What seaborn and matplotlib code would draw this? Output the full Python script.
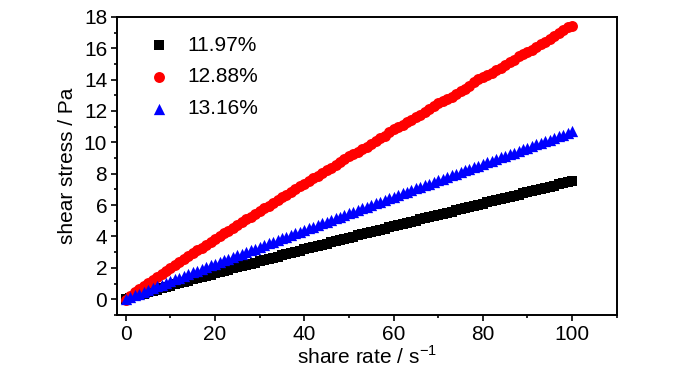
import matplotlib
matplotlib.use("Agg")
import matplotlib.pyplot as plt
import seaborn as sns
import pandas as pd
from matplotlib.ticker import MultipleLocator

# shear rate (1/s)
shear_rate = list(range(0, 101))

# shear stress (Pa)
stress_1197 = [
    0.00, 0.10, 0.18, 0.27, 0.35, 0.44, 0.52, 0.61, 0.69, 0.78,
    0.86, 0.94, 1.02, 1.10, 1.18, 1.26, 1.34, 1.42, 1.50, 1.57,
    1.65, 1.73, 1.81, 1.88, 1.96, 2.04, 2.11, 2.19, 2.27, 2.34,
    2.42, 2.50, 2.57, 2.65, 2.72, 2.80, 2.88, 2.95, 3.03, 3.10,
    3.18, 3.25, 3.33, 3.40, 3.47, 3.55, 3.62, 3.70, 3.77, 3.85,
    3.92, 3.99, 4.07, 4.14, 4.21, 4.29, 4.36, 4.43, 4.50, 4.58,
    4.65, 4.72, 4.80, 4.87, 4.94, 5.01, 5.09, 5.16, 5.23, 5.31,
    5.38, 5.45, 5.52, 5.59, 5.67, 5.74, 5.81, 5.88, 5.95, 6.03,
    6.10, 6.17, 6.24, 6.31, 6.39, 6.46, 6.53, 6.60, 6.67, 6.74,
    6.82, 6.89, 6.96, 7.03, 7.10, 7.17, 7.24, 7.32, 7.39, 7.46,
    7.53,
]
stress_1288 = [
    -0.05, 0.23, 0.44, 0.64, 0.84, 1.04, 1.24, 1.43, 1.63, 1.82,
    2.00, 2.19, 2.37, 2.56, 2.74, 2.92, 3.11, 3.29, 3.47, 3.66,
    3.84, 4.02, 4.20, 4.38, 4.56, 4.73, 4.91, 5.09, 5.27, 5.44,
    5.62, 5.79, 5.97, 6.14, 6.32, 6.49, 6.67, 6.84, 7.01, 7.19,
    7.36, 7.53, 7.70, 7.88, 8.05, 8.22, 8.39, 8.56, 8.76, 8.95,
    9.10, 9.25, 9.40, 9.56, 9.73, 9.92, 10.09, 10.26, 10.43, 10.63,
    10.82, 10.98, 11.12, 11.27, 11.44, 11.61, 11.77, 11.94, 12.13, 12.33,
    12.48, 12.61, 12.76, 12.92, 13.09, 13.26, 13.42, 13.61, 13.84, 14.02,
    14.15, 14.27, 14.42, 14.60, 14.77, 14.93, 15.10, 15.28, 15.50, 15.66,
    15.78, 15.91, 16.06, 16.25, 16.41, 16.57, 16.77, 16.98, 17.18, 17.32,
    17.40,
]
stress_1316 = [
    0.02, 0.13, 0.25, 0.36, 0.48, 0.59, 0.71, 0.82, 0.93, 1.05,
    1.16, 1.27, 1.38, 1.49, 1.60, 1.71, 1.82, 1.93, 2.04, 2.15,
    2.26, 2.37, 2.48, 2.58, 2.69, 2.80, 2.91, 3.02, 3.12, 3.23,
    3.34, 3.45, 3.56, 3.66, 3.77, 3.88, 3.99, 4.09, 4.20, 4.31,
    4.42, 4.52, 4.63, 4.74, 4.84, 4.95, 5.06, 5.16, 5.27, 5.37,
    5.48, 5.59, 5.69, 5.80, 5.90, 6.01, 6.11, 6.22, 6.32, 6.43,
    6.53, 6.64, 6.74, 6.85, 6.95, 7.06, 7.16, 7.27, 7.37, 7.48,
    7.58, 7.68, 7.79, 7.89, 8.00, 8.10, 8.21, 8.31, 8.41, 8.52,
    8.62, 8.72, 8.83, 8.93, 9.04, 9.14, 9.24, 9.35, 9.45, 9.55,
    9.66, 9.76, 9.87, 9.97, 10.07, 10.18, 10.28, 10.38, 10.49, 10.59,
    10.70,
]

labels = ["11.97%", "12.88%", "13.16%"]
series = [stress_1197, stress_1288, stress_1316]
colors = ["black", "#ff0000", "#0000ff"]
markers = ["s", "o", "^"]
sizes = [42, 62, 66]

plt.rcParams["font.family"] = ["Liberation Sans", "DejaVu Sans"]
plt.rcParams["mathtext.fontset"] = "custom"
plt.rcParams["mathtext.rm"] = "Liberation Sans"

fig = plt.figure(figsize=(7, 3.74), dpi=100)
ax = fig.add_axes([0.167, 0.158, 0.714, 0.797])

for lab, ys, c, m, s in zip(labels, series, colors, markers, sizes):
    df = pd.DataFrame({"rate": shear_rate, "stress": ys})
    sns.scatterplot(data=df, x="rate", y="stress", color=c, marker=m, s=s,
                    linewidth=0, label=lab, ax=ax)

ax.set_xlim(-2, 110)
ax.set_ylim(-1, 18)
ax.xaxis.set_major_locator(MultipleLocator(20))
ax.xaxis.set_minor_locator(MultipleLocator(10))
ax.yaxis.set_major_locator(MultipleLocator(2))
ax.yaxis.set_minor_locator(MultipleLocator(1))
ax.tick_params(which="major", direction="out", length=4, width=1.2, labelsize=15,
               pad=3, top=False, right=False)
ax.tick_params(which="minor", direction="out", length=2.5, width=1.2,
               top=False, right=False)
for sp in ax.spines.values():
    sp.set_linewidth(1.4)
    sp.set_color("black")

ax.set_xlabel("share rate / s$^{\\mathrm{-1}}$", fontsize=15, labelpad=1)
ax.set_ylabel("shear stress / Pa", fontsize=15, labelpad=5)

handles, labs = ax.get_legend_handles_labels()
ax.legend(handles, labs, loc="upper left", bbox_to_anchor=(0.005, 1.0),
          frameon=False, fontsize=15, handletextpad=0.35, labelspacing=0.62,
          markerscale=1.0)

fig.savefig("out.png", dpi=100)
